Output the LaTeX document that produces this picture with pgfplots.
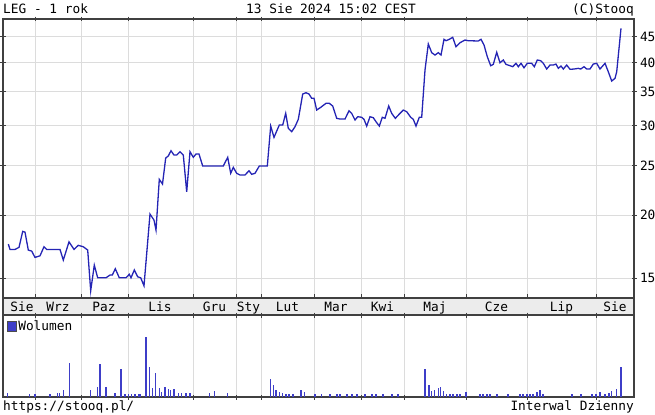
\documentclass[border=0pt]{standalone}
\usepackage{fontspec}
\setmainfont{DejaVu Sans Mono}
\usepackage{pgfplots}
\pgfplotsset{compat=1.18}
\definecolor{linia}{RGB}{36,36,180}
\definecolor{wol}{RGB}{62,62,200}
\definecolor{siatka}{RGB}{220,220,220}
\definecolor{pasek}{RGB}{236,236,236}
\newcommand{\ff}{\fontsize{12.8bp}{15bp}\selectfont}

\pgfplotsset{
  panel/.style={scale only axis, width=631bp, xmin=3, xmax=634,
    anchor=north west,
    xtick={35,81,128,193,236,261,314,361,404,466,527,596},
    xticklabels={},
    axis line style={draw=black!75, line width=1.2bp},
    tick style={draw=black!75, line width=1bp},
    major tick length=5bp, tick align=center},
}

\begin{document}
\begin{tikzpicture}
\path[use as bounding box] (0,0) rectangle (655bp,-415bp);

% naglowek
\node[anchor=base west, font=\ff, inner sep=0] at (3bp,-13bp) {LEG - 1 rok};
\node[anchor=base, font=\ff, inner sep=0] at (331bp,-13bp) {13 Sie 2024 15:02 CEST};
\node[anchor=base east, font=\ff, inner sep=0] at (634bp,-13bp) {(C)Stooq};

% kurs
\begin{axis}[panel, at={(3bp,-19bp)}, height=279bp,
  ymode=log, ymin=13.72, ymax=48.75,
  ytick={15,20,25,30,35,40,45},
  yticklabels={15,20,25,30,35,40,45},
  yticklabel pos=right, ytick pos=both,
  yticklabel style={font=\ff},
  grid=major, grid style={siatka, line width=1bp}]
\addplot[linia, line width=1.3bp, mark=none] coordinates {
(8.3,17.53)(10,17.11)(15,17.11)(19,17.27)(22.7,18.57)(25,18.51)(28.3,17.06)
(31.7,16.98)(35,16.50)(40,16.62)(44,17.32)(46.7,17.11)(60,17.11)(63.3,16.30)
(69,17.71)(74,17.11)(78.3,17.43)(83.3,17.32)(87.7,17.06)(90.7,14.18)(94.3,15.93)
(97.7,15.04)(106,15.04)(110,15.23)(112.3,15.23)(115.3,15.67)(119.3,15.04)
(126,15.04)(129.3,15.28)(131,15.04)(134.3,15.58)(137.7,15.11)(140.7,15.04)
(144,14.50)(150,20.09)(154,19.55)(156,18.68)(159.3,23.52)(162.5,23.03)
(165.7,25.92)(168.3,26.16)(171,26.79)(174,26.27)(176.7,26.27)(180,26.67)
(183.3,26.27)(186.7,22.23)(190,26.67)(193.3,26.00)(196,26.39)(199,26.39)
(202.7,24.99)(223.3,24.99)(227.7,26.00)(230.7,24.18)(233.3,24.84)(236.7,24.18)
(240,23.99)(245,23.99)(249,24.46)(251.7,24.07)(255,24.18)(259.3,24.99)
(267.3,24.99)(270.7,29.97)(274,28.47)(279.3,30.11)(282.7,30.11)(285.7,31.75)
(288.3,29.66)(291.7,29.21)(295,29.88)(298.3,30.90)(302.7,34.67)(306,34.87)
(309,34.67)(311.7,34.00)(314,34.00)(316.7,32.23)(320.7,32.63)(326,33.23)
(329.3,33.23)(332.7,32.83)(336.7,31.04)(340,30.94)(345,30.94)(349,32.13)
(351.7,31.75)(355,30.80)(357.7,31.27)(361.7,31.19)(364,30.90)(366.7,29.97)
(370,31.27)(373.3,31.13)(376,30.57)(379.3,29.97)(382.3,31.19)(385,31.04)
(388.7,32.83)(391.7,31.75)(395.3,31.04)(399.3,31.65)(403.3,32.23)(406.7,31.99)
(410.7,31.19)(413.3,30.90)(416,29.97)(419.3,31.19)(421.7,31.19)(425,38.66)
(428.3,43.51)(431.7,41.83)(435,41.39)(438.3,41.83)(441,41.39)(444,44.45)
(446,44.17)(449.3,44.45)(452.7,44.86)(456,42.98)(460,43.77)(465,44.31)
(468.3,44.17)(478.3,44.11)(481,44.45)(484,43.32)(487.3,41.07)(490.7,39.43)
(493.3,39.68)(496.7,41.90)(500,39.97)(503.3,40.46)(506,39.68)(510,39.43)
(512.7,39.25)(516,39.86)(518.3,39.25)(521,39.86)(524,39.07)(527.3,39.86)
(531.7,39.86)(534.3,39.25)(537.3,40.46)(540.7,40.33)(543.3,39.86)(546.7,38.84)
(550,39.55)(553.3,39.55)(556,39.73)(558.3,38.96)(561,39.37)(563.3,38.84)
(566.7,39.55)(570,38.79)(574,38.84)(578.3,38.96)(580.7,38.84)(584,39.25)
(586.7,38.84)(590,38.84)(593.3,39.73)(596.7,39.86)(600,38.84)(605,39.86)
(608.3,38.36)(611.7,36.78)(615,37.23)(616.7,38.36)(621,46.73)
};
\end{axis}

% pasek miesiecy
\begin{axis}[panel, at={(3bp,-298bp)}, height=17bp,
  ymin=0, ymax=1, ytick=\empty, tick align=outside, major tick length=4bp,
  axis background/.style={fill=pasek}]
\addplot[draw=none] coordinates {(3,0)(634,1)};
\foreach \m/\x in {Sie/22,Wrz/58,Paz/104,Lis/160,Gru/214.5,Sty/248.5,Lut/287.5,
                   Mar/336,Kwi/382.5,Maj/435,Cze/496.5,Lip/561.5,Sie/615}{
  \edef\tmp{\noexpand\node[font=\noexpand\ff, inner sep=0, anchor=base] at (axis cs:\x,0.22) {\m};}
  \tmp
}
\end{axis}

% wolumen
\begin{axis}[panel, at={(3bp,-315bp)}, height=82bp,
  ymin=0, ymax=82, ytick=\empty,
  xmajorgrids, grid style={siatka, line width=1bp},
  legend style={at={(0.004,0.97)}, anchor=north west, draw=none, fill=none,
    font=\ff, inner sep=1bp, row sep=0pt},
  legend cell align=left]
\addlegendimage{legend image code/.code={
  \draw[fill=wol, draw=black!70, line width=0.6bp] (0bp,-4.5bp) rectangle (9bp,4.5bp);}}
\addlegendentry{Wolumen}
\addplot[ycomb, wol, line width=1.3bp, mark=none, forget plot] coordinates {
(7.3,3.7)(29.3,3)(35,3)(50,3)(57.3,4.3)(59.3,3.7)(63.3,7)(69.3,34.3)
(90.7,7)(97.3,10.3)(100,33)(106,10.3)(115,4.3)(121,28)(125,3)(128.3,3)
(131.7,3)(135,3)(138.3,3)(140,3)(146,60.3)(149.3,30.3)(152.7,8.7)(155.7,23.7)
(159.3,8.7)(161.7,5.3)(165,10.3)(168.3,8)(170.7,7)(174,8)(178.3,4.3)
(181.7,3.7)(186,3.7)(190,3.7)(209.3,3.7)(214.3,6)(227.7,3.7)(270.7,17.7)
(273.3,12)(276,7)(279.3,5.3)(282.7,3.7)(286,3)(289,3)(293,3)(301,7)(304.3,5.3)
(315,3)(321.7,3)(330,3)(337,3)(340,3)(347,3)(352,3)(357,3)(365,3)(372,3)
(376,3)(383,3)(392,3)(398,3)(425,28.3)(429,11.7)(431.7,6)(434.3,6.7)
(438.3,9.3)(440.7,10.3)(443.3,6)(446.7,3.3)(450,3)(453,3)(457,3)(460,3)
(466,5)(480,3)(483,3)(487,3)(490,3)(497,3)(508,3)(520,3)(523,3)(527,3)
(530,3)(533,3)(537,5)(540,7)(543,3)(572,3)(581,3)(592,3)(596,3)(600,5)
(605,3)(609,4)(611.7,6)(616.7,7.7)(621,30.3)
};
\end{axis}

% stopka
\node[anchor=base west, font=\ff, inner sep=0] at (3bp,-410bp) {https://stooq.pl/};
\node[anchor=base east, font=\ff, inner sep=0] at (634bp,-410bp) {Interwal Dzienny};
\end{tikzpicture}
\end{document}
